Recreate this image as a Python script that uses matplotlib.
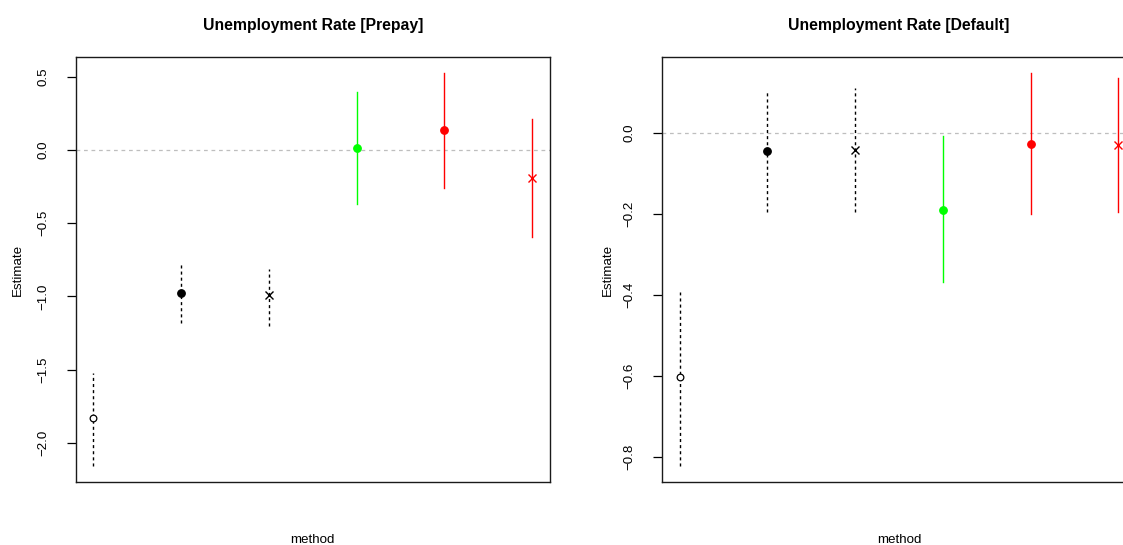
import matplotlib
matplotlib.use("Agg")
import matplotlib.pyplot as plt
from matplotlib.ticker import FuncFormatter

plt.rcParams['font.family'] = ['Liberation Sans', 'DejaVu Sans']

# one row per estimation method, in plotting order
methods = [1, 2, 3, 4, 5, 6]
colors = ['black', 'black', 'black', '#00ff00', 'red', 'red']
markers = ['o', 'o', 'x', 'o', 'o', 'x']
filled = [False, True, True, True, True, True]
styles = ['--', '--', '--', '-', '-', '-']

prepay_est = [-1.832, -0.975, -0.993, 0.014, 0.134, -0.191]
prepay_lo = [-2.157, -1.184, -1.202, -0.371, -0.262, -0.596]
prepay_hi = [-1.525, -0.764, -0.811, 0.395, 0.525, 0.213]
prepay_ticks = [0.5, 0.0, -0.5, -1.0, -1.5, -2.0]

default_est = [-0.602, -0.0445, -0.042, -0.189, -0.026, -0.029]
default_lo = [-0.822, -0.196, -0.196, -0.369, -0.199, -0.194]
default_hi = [-0.393, 0.100, 0.110, -0.008, 0.148, 0.136]
default_ticks = [0.0, -0.2, -0.4, -0.6, -0.8]


def r_range(lo, hi):
    # base-graphics style: pad the data range by 4% on each side
    d = (hi - lo) * 0.04
    return lo - d, hi + d


def fmt(v, pos):
    return ('%.1f' % v).replace('-', '\u2212')


def panel(ax, title, est, lo, hi, ticks, ylab_x):
    ax.axhline(0, color='#bebebe', lw=0.9, ls=(0, (3, 3)), zorder=1)
    for i in range(len(methods)):
        ax.plot([methods[i], methods[i]], [lo[i], hi[i]], color=colors[i],
                ls=styles[i], lw=1.0, dashes=(2.2, 2.2) if styles[i] == '--' else (None, None),
                zorder=2)
        if markers[i] == 'x':
            ax.plot(methods[i], est[i], marker='x', color=colors[i], ms=5.5,
                    mew=1.0, ls='none', zorder=3)
        else:
            ax.plot(methods[i], est[i], marker='o', ls='none', zorder=3,
                    ms=4.8 if not filled[i] else 5.4,
                    mfc=colors[i] if filled[i] else 'white',
                    mec=colors[i], mew=0.9)

    ax.set_xlim(*r_range(min(methods), max(methods)))
    ax.set_ylim(*r_range(min(lo), max(hi)))
    ax.set_xticks([])
    ax.set_yticks(ticks)
    ax.yaxis.set_major_formatter(FuncFormatter(fmt))
    ax.tick_params(axis='y', length=6.5, width=0.9, pad=12.5, labelsize=9.6,
                   labelrotation=90)
    for lab in ax.get_yticklabels():
        lab.set_va('center')
    for s in ax.spines.values():
        s.set_linewidth(1.0)
        s.set_color('#1a1a1a')

    ax.set_title(title, fontweight='bold', fontsize=11.3, y=1.0745, va='center', pad=0)
    ax.set_xlabel('method', fontsize=9.6)
    ax.xaxis.set_label_coords(0.5, -0.1374)
    ax.xaxis.label.set_va('center')
    ax.set_ylabel('Estimate', fontsize=9.6)
    ax.yaxis.set_label_coords(ylab_x, 0.5)
    ax.yaxis.label.set_va('center')


fig = plt.figure(figsize=(11.23, 5.45), dpi=100)
ax1 = fig.add_axes([75.7 / 1123, 63.3 / 545, 474 / 1123, 424.4 / 545])
ax2 = fig.add_axes([662 / 1123, 63.3 / 545, 474 / 1123, 424.4 / 545])

panel(ax1, 'Unemployment Rate [Prepay]', prepay_est, prepay_lo, prepay_hi,
      prepay_ticks, (18.3 - 75.7) / 474)
panel(ax2, 'Unemployment Rate [Default]', default_est, default_lo, default_hi,
      default_ticks, (607.5 - 662) / 474)

fig.savefig('out.png', dpi=100)
